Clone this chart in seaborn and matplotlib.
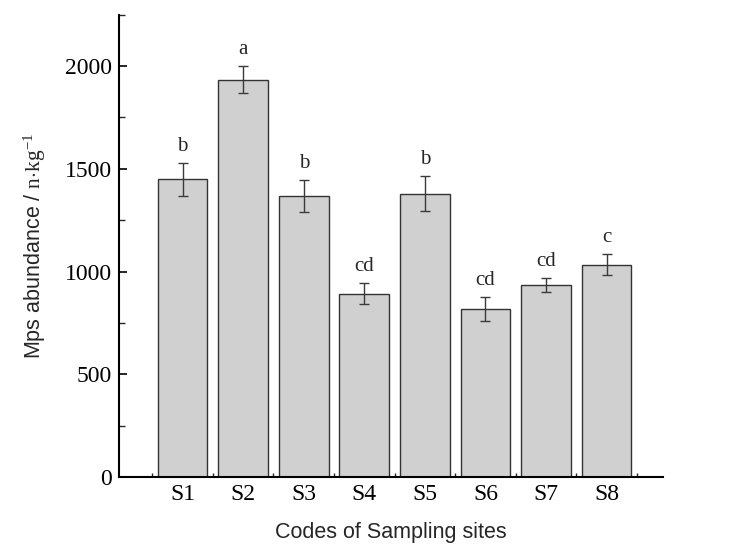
import pandas as pd
import seaborn as sns
import matplotlib.pyplot as plt
from matplotlib.ticker import MultipleLocator

# values
sites = ["S1", "S2", "S3", "S4", "S5", "S6", "S7", "S8"]
abundance = [1450, 1934, 1368, 893, 1380, 817, 935, 1034]
errors = [80, 65, 76, 50, 85, 58, 35, 50]
letters = ["b", "a", "b", "cd", "b", "cd", "cd", "c"]

sns.set_theme(style="ticks")
plt.rcParams["font.family"] = ["Liberation Serif", "DejaVu Serif"]
plt.rcParams["mathtext.fontset"] = "custom"
plt.rcParams["mathtext.rm"] = "Liberation Serif"
plt.rcParams["mathtext.it"] = "Liberation Serif:italic"

df = pd.DataFrame({"site": sites, "abundance": abundance})

fig = plt.figure(figsize=(7.41, 5.49), dpi=100)
ax = fig.add_axes([0.1606, 0.1311, 0.7341, 0.842])

sns.barplot(data=df, x="site", y="abundance", color="#d0d0d0", saturation=1,
            edgecolor="#333333", linewidth=1.0, width=0.82, errorbar=None, ax=ax)
ax.errorbar(range(len(sites)), abundance, yerr=errors, fmt="none",
            ecolor="#3a3a3a", elinewidth=1.0, capsize=3.5, capthick=1.0)

for i, (v, e, t) in enumerate(zip(abundance, errors, letters)):
    ax.annotate(t, xy=(i, v + e), xytext=(0, 5), textcoords="offset points",
                ha="center", va="bottom", fontsize=15)

ax.set_xlim(-1.05, 7.93)
ax.set_ylim(0, 2250)
ax.yaxis.set_major_locator(MultipleLocator(500))
ax.yaxis.set_minor_locator(MultipleLocator(250))
ax.set_xticks(range(len(sites)))
ax.set_xticks([i - 0.5 for i in range(len(sites) + 1)], minor=True)
ax.set_xticklabels(sites)

sns.despine(ax=ax)
for side in ["left", "bottom"]:
    ax.spines[side].set_linewidth(1.5)
    ax.spines[side].set_color("black")

ax.tick_params(axis="y", which="major", direction="in", length=6, width=1.2,
               labelsize=17, pad=5, colors="black")
ax.tick_params(axis="y", which="minor", direction="in", length=4, width=1.0)
ax.tick_params(axis="x", which="major", direction="in", length=4, width=1.0,
               labelsize=17, pad=5, colors="black")
ax.tick_params(axis="x", which="minor", direction="in", length=3, width=1.0)

ax.set_xlabel("Codes of Sampling sites", fontsize=15.5,
              family=["Liberation Sans", "DejaVu Sans"], labelpad=12)
ax.set_ylabel(r"Mps abundance / $\mathrm{n{\cdot}kg^{-1}}$", fontsize=15.5,
              family=["Liberation Sans", "DejaVu Sans"], labelpad=12)

fig.savefig("out.png", dpi=100)
